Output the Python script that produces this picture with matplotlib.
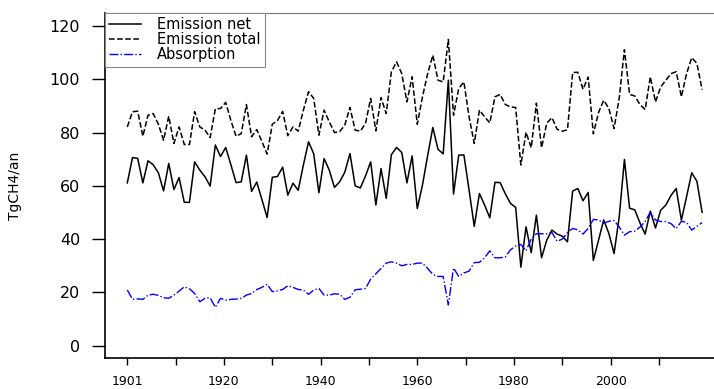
import numpy as np
import matplotlib
matplotlib.use('Agg')
import matplotlib.pyplot as plt

# values (TgCH4/an), 1901-2012
years = np.arange(1901, 2013)

emission_net = [
    61.1, 70.6, 70.3, 61.1, 69.4, 67.9, 64.9, 58.1, 68.4, 58.6,
    63.1, 53.8, 53.8, 69.0, 65.9, 63.4, 59.9, 75.3, 71.0, 74.4,
    67.9, 61.2, 61.5, 71.5, 57.9, 61.4, 54.8, 48.1, 63.2, 63.5,
    67.0, 56.5, 61.0, 58.3, 67.8, 76.5, 72.0, 57.4, 70.2, 65.9,
    59.4, 61.5, 65.1, 72.1, 60.0, 59.2, 63.7, 69.0, 52.8, 66.5,
    55.3, 71.7, 74.4, 72.5, 61.1, 71.2, 51.5, 60.3, 71.3, 81.9,
    73.7, 72.0, 99.6, 56.9, 71.5, 71.6, 58.4, 44.8, 57.1, 52.8,
    48.0, 61.3, 61.2, 57.0, 53.4, 51.9, 29.5, 44.6, 34.9, 49.0,
    33.0, 39.6, 43.4, 41.9, 41.1, 39.0, 58.0, 59.0, 54.4, 57.5,
    32.0, 39.6, 47.2, 42.1, 34.6, 48.4, 69.9, 51.6, 51.0, 46.1,
    41.9, 50.5, 44.2, 50.8, 52.8, 56.4, 59.0, 47.1, 55.9, 64.9,
    61.7, 50.1,
]

emission_total = [
    82.1, 87.8, 88.0, 78.6, 86.5, 87.1, 83.1, 77.1, 86.1, 75.9,
    82.1, 75.5, 75.5, 87.8, 82.1, 80.9, 78.1, 88.9, 89.0, 91.3,
    84.5, 78.6, 79.6, 90.5, 78.4, 81.1, 76.6, 71.9, 83.1, 84.5,
    87.9, 78.8, 82.1, 80.5, 88.4, 95.3, 92.8, 79.0, 88.4, 84.0,
    80.0, 80.3, 82.8, 89.4, 80.9, 80.5, 83.4, 92.8, 80.6, 93.1,
    87.1, 102.8, 106.5, 102.1, 91.5, 100.9, 83.1, 93.4, 102.1, 109.0,
    99.6, 99.0, 114.9, 86.5, 96.5, 99.0, 85.9, 75.9, 88.4, 85.9,
    83.6, 93.4, 94.3, 90.5, 89.6, 89.4, 67.8, 80.1, 74.3, 91.0,
    74.3, 83.5, 85.6, 81.2, 80.5, 81.0, 102.5, 102.6, 96.2, 100.8,
    79.5, 87.5, 92.1, 89.0, 81.5, 93.0, 111.1, 94.3, 93.7, 90.5,
    88.6, 100.9, 91.5, 97.1, 99.6, 102.1, 102.8, 93.4, 102.1, 108.1,
    105.9, 96.1,
]

absorption = [
    20.9, 17.4, 17.6, 17.4, 19.0, 19.3, 18.9, 18.0, 17.8, 19.0,
    20.5, 22.1, 21.4, 19.6, 16.5, 17.8, 18.0, 14.4, 17.8, 17.1,
    17.4, 17.5, 17.8, 19.0, 19.6, 21.1, 21.9, 23.1, 20.3, 20.6,
    21.1, 22.5, 21.9, 21.1, 20.9, 19.3, 20.9, 21.5, 19.0, 19.0,
    19.5, 19.3, 17.4, 18.2, 21.0, 21.2, 21.5, 25.0, 27.0, 29.0,
    31.0, 31.5, 31.0, 30.0, 30.5, 30.5, 31.0, 31.0, 29.0, 26.8,
    26.0, 26.0, 15.3, 29.2, 26.0, 27.3, 28.0, 31.2, 31.3, 33.0,
    35.6, 33.0, 33.0, 33.3, 36.0, 37.4, 38.0, 35.6, 40.0, 42.0,
    42.0, 42.0, 42.5, 39.2, 40.0, 42.5, 44.0, 43.5, 41.9, 44.0,
    47.4, 47.2, 46.0, 46.7, 47.0, 44.6, 41.5, 42.8, 43.0, 44.5,
    46.6, 50.1, 47.2, 46.6, 46.6, 45.8, 43.9, 46.7, 46.3, 43.4,
    44.8, 46.2,
]

labels = ['Emission net', 'Emission total', 'Absorption']
tick_labels = ['1901', '', '1920', '', '1940', '', '1960', '', '1980', '', '2000', '']

fig = plt.figure(figsize=(7.14, 3.89), dpi=100)
ax = fig.add_axes([0.1464, 0.079, 0.8536, 0.888])

ax.plot(years, emission_net, '-', color='black', lw=1.1, label=labels[0])
ax.plot(years, emission_total, '--', color='black', lw=1.1, label=labels[1])
ax.plot(years, absorption, '-.', color='blue', lw=1.0, label=labels[2])

ax.set_xlim(1896.6, 2014.3)
ax.set_ylim(-4.7, 124.9)

# 12 ticks spread over the record, labelled every other one
xt = years[0] + np.arange(12) * len(years) / 12.0
ax.set_xticks(xt)
ax.set_xticklabels(tick_labels, fontsize=9)
ax.set_yticks(range(0, 121, 20))
ax.tick_params(axis='y', labelsize=11.5, length=9.5, width=1.0, pad=8)
ax.tick_params(axis='x', length=5, width=1.0, pad=7)

ax.set_ylabel('TgCH4/an', fontsize=10, labelpad=20)

ax.spines['right'].set_visible(False)
ax.spines['top'].set_color('#777777')
for s in ['left', 'bottom']:
    ax.spines[s].set_linewidth(1.2)

leg = ax.legend(loc='upper left', bbox_to_anchor=(0, 1), borderaxespad=0,
                fontsize=10.5, fancybox=False, framealpha=1, edgecolor='#888888',
                handlelength=2.2, handletextpad=1.1, labelspacing=0.0,
                borderpad=0.3)
leg.get_frame().set_linewidth(0.8)

plt.savefig('out.png', dpi=100)
